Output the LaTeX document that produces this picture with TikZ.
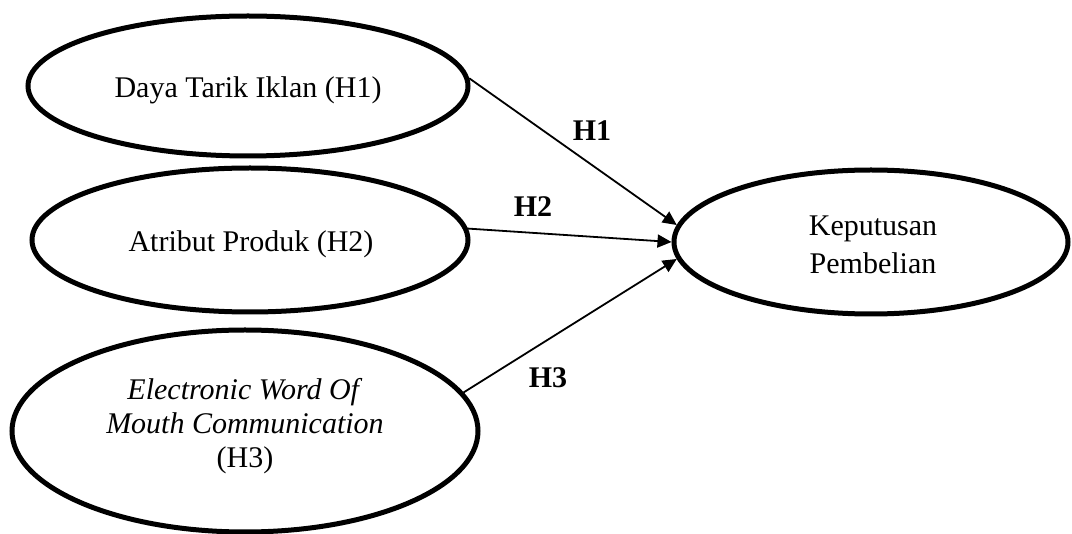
\documentclass[tikz,border=0pt]{standalone}
\usepackage{fontspec}
\setmainfont{Liberation Serif}
\usetikzlibrary{shapes.geometric,arrows.meta}
\begin{document}
\begin{tikzpicture}[x=1pt,y=-1pt,
  varbox/.style={ellipse, draw=black, line width=5pt, inner sep=0pt},
  vartext/.style={inner sep=0pt, align=center, font=\fontsize{30}{34}\selectfont},
  conn/.style={line width=1.8pt, -{Triangle[length=14pt,width=13pt]}},
  hlabel/.style={font=\fontsize{30}{34}\selectfont\bfseries, inner sep=0pt}]
\useasboundingbox (0,0) rectangle (1072,534);
\node[varbox, minimum width=440pt, minimum height=140pt] (e1) at (248,86) {};
\node[varbox, minimum width=436pt, minimum height=144pt] (e2) at (250,240) {};
\node[varbox, minimum width=466pt, minimum height=202pt] (e3) at (245,431) {};
\node[varbox, minimum width=394pt, minimum height=144pt] (e4) at (871,242) {};
\node[vartext] (t1) at (248,90) {Daya Tarik Iklan (H1)};
\node[vartext] (t2) at (251,244) {Atribut Produk (H2)};
\node[vartext] (t3) at (245,426)
  {\textit{Electronic Word Of}\\\textit{Mouth Communication}\\(H3)};
\node[vartext, font=\fontsize{30}{38}\selectfont] (t4) at (873,245) {Keputusan\\Pembelian};
\draw[conn] (e1.2) -- (e4.175);
\draw[conn] (e2.3) -- (e4.180);
\draw[conn] (e3.10) -- (e4.185);
\node[hlabel] (h1) at (592,131) {H1};
\node[hlabel] (h2) at (533,207) {H2};
\node[hlabel] (h3) at (548,378) {H3};
\end{tikzpicture}
\end{document}
